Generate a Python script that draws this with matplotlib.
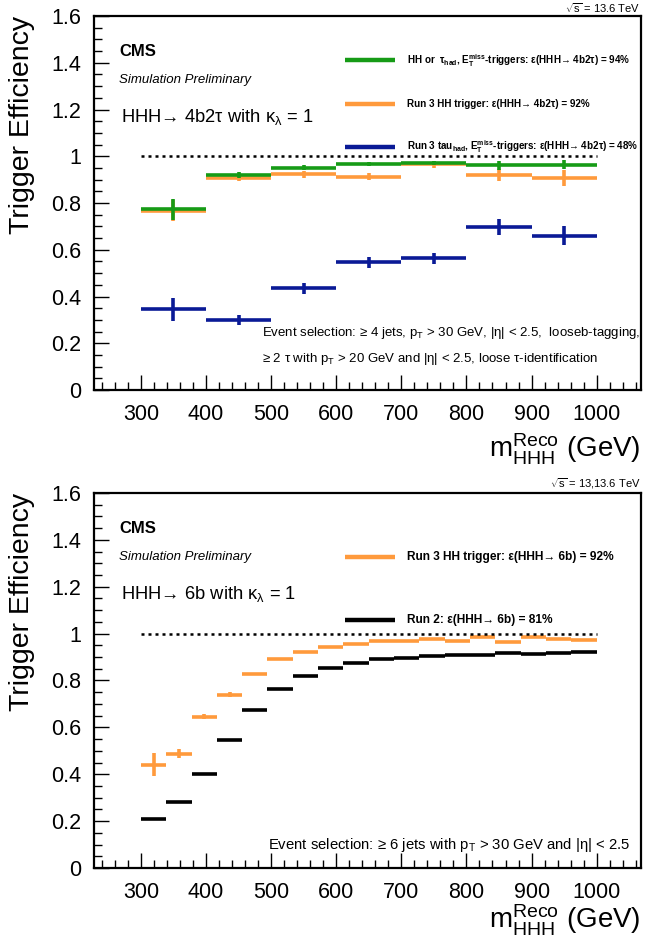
import numpy as np
import matplotlib
matplotlib.use("Agg")
import matplotlib.pyplot as plt
from matplotlib.ticker import MultipleLocator

plt.rcParams['font.family'] = ['Liberation Sans', 'DejaVu Sans']
plt.rcParams['mathtext.fontset'] = 'custom'
plt.rcParams['mathtext.rm'] = 'Liberation Sans'
plt.rcParams['mathtext.it'] = 'Liberation Sans:italic'
plt.rcParams['mathtext.bf'] = 'Liberation Sans:bold'

# ---- top panel: HHH -> 4b2tau, 100 GeV bins
top_edges = [300, 400, 500, 600, 700, 800, 900, 1000]
green_eff = [0.774, 0.921, 0.951, 0.968, 0.971, 0.961, 0.964]
green_err = [0.045, 0.012, 0.010, 0.008, 0.010, 0.020, 0.020]
orange_top_eff = [0.767, 0.908, 0.922, 0.913, 0.966, 0.921, 0.906]
orange_top_err = [0.045, 0.015, 0.015, 0.015, 0.015, 0.025, 0.035]
blue_eff = [0.345, 0.300, 0.435, 0.546, 0.563, 0.698, 0.660]
blue_err = [0.050, 0.020, 0.025, 0.025, 0.025, 0.035, 0.040]

# ---- bottom panel: HHH -> 6b, 18 bins between 300 and 1000 GeV
bot_range = (300, 1000)
orange_bot_eff = [0.441, 0.488, 0.646, 0.739, 0.829, 0.893, 0.922, 0.943, 0.956,
                  0.970, 0.970, 0.978, 0.970, 0.986, 0.964, 0.986, 0.978, 0.972]
orange_bot_err = [0.048, 0.020, 0.012, 0.010, 0.005, 0.005, 0.003, 0.003, 0.003,
                  0.003, 0.003, 0.003, 0.003, 0.003, 0.003, 0.003, 0.003, 0.003]
black_eff = [0.207, 0.283, 0.402, 0.546, 0.675, 0.764, 0.819, 0.855, 0.874,
             0.890, 0.898, 0.906, 0.910, 0.910, 0.917, 0.913, 0.917, 0.921]
black_err = [0.003] * 18

GREEN = '#169b16'
ORANGE = '#ff9a3c'
BLUE = '#0a1a96'
BLACK = '#000000'


def draw_hist(ax, edges, eff, err, color, lw=2.6):
    edges = np.asarray(edges, dtype=float)
    centers = 0.5 * (edges[1:] + edges[:-1])
    half = 0.5 * (edges[1:] - edges[:-1])
    ax.errorbar(centers, eff, xerr=half, yerr=err, fmt='none', ecolor=color,
                elinewidth=lw, capsize=0)


def style_axes(ax, xlabel_pad):
    ax.set_xlim(228, 1068)
    ax.set_ylim(0, 1.6)
    ax.xaxis.set_minor_locator(MultipleLocator(20))
    ax.yaxis.set_minor_locator(MultipleLocator(0.05))
    ax.set_xticks([300, 400, 500, 600, 700, 800, 900, 1000])
    ax.set_xticklabels(['300', '400', '500', '600', '700', '800', '900', '1000'])
    ax.set_yticks([0, 0.2, 0.4, 0.6, 0.8, 1.0, 1.2, 1.4, 1.6])
    ax.set_yticklabels(['0', '0.2', '0.4', '0.6', '0.8', '1', '1.2', '1.4', '1.6'])
    ax.tick_params(which='both', direction='in', top=False, right=False,
                   labelsize=15.5, width=1.0, color='black')
    ax.tick_params(which='major', length=11)
    ax.tick_params(which='minor', length=5.5)
    ax.tick_params(axis='x', pad=10)
    ax.tick_params(axis='y', pad=9)
    for s in ax.spines.values():
        s.set_linewidth(1.6)
    ax.plot([300, 1000], [1.0, 1.0], color='black', ls=(0, (1.2, 1.6)), lw=1.8)
    ax.set_xlabel(r'$\mathrm{m}_{\mathrm{HHH}}^{\mathrm{Reco}}$ (GeV)', fontsize=20,
                  loc='right', labelpad=xlabel_pad)
    ax.set_ylabel('Trigger Efficiency', fontsize=20.5, loc='top', labelpad=12)


def legend_entry(ax, y, color, label, size):
    ax.plot([0.458, 0.550], [y, y], transform=ax.transAxes, color=color, lw=3.2,
            solid_capstyle='butt')
    ax.text(0.572, y, label, transform=ax.transAxes, fontsize=size, fontweight='bold',
            va='center', ha='left')


def header(ax, process, energy):
    ax.text(0.046, 0.905, 'CMS', transform=ax.transAxes, fontsize=12, fontweight='bold',
            va='center')
    ax.text(0.046, 0.83, 'Simulation Preliminary', transform=ax.transAxes, fontsize=9.5,
            style='italic', va='center')
    ax.text(0.05, 0.73, process, transform=ax.transAxes, fontsize=13.2, va='center')
    ax.text(0.999, 1.004, energy, transform=ax.transAxes, fontsize=8, ha='right',
            va='bottom')


fig = plt.figure(figsize=(6.46, 9.41), dpi=100)
ax1 = fig.add_axes([0.1455, 0.5855, 0.8467, 0.3975])
ax2 = fig.add_axes([0.1455, 0.0776, 0.8467, 0.3985])

# top panel
draw_hist(ax1, top_edges, blue_eff, blue_err, BLUE)
draw_hist(ax1, top_edges, orange_top_eff, orange_top_err, ORANGE)
draw_hist(ax1, top_edges, green_eff, green_err, GREEN)
style_axes(ax1, 5)
header(ax1, r'HHH→ 4b2τ with κ$_{\mathrm{λ}}$ = 1', r'$\sqrt{\mathrm{s}}$ = 13.6 TeV')
legend_entry(ax1, 0.882, GREEN,
             r'HH or  τ$_{\mathbf{had}}$, E$_{\mathbf{T}}^{\mathbf{miss}}$-triggers: ε(HHH→ 4b2τ) = 94%', 7.1)
legend_entry(ax1, 0.765, ORANGE, 'Run 3 HH trigger: ε(HHH→ 4b2τ) = 92%', 7.1)
legend_entry(ax1, 0.650, BLUE,
             r'Run 3 tau$_{\mathbf{had}}$, E$_{\mathbf{T}}^{\mathbf{miss}}$-triggers: ε(HHH→ 4b2τ) = 48%', 7.1)
ax1.text(0.308, 0.153, r'Event selection: ≥ 4 jets, p$_{\mathrm{T}}$ > 30 GeV, |η| < 2.5,  looseb-tagging,',
         transform=ax1.transAxes, fontsize=9.5, va='center')
ax1.text(0.308, 0.083, r'≥ 2 τ with p$_{\mathrm{T}}$ > 20 GeV and |η| < 2.5, loose τ-identification',
         transform=ax1.transAxes, fontsize=9.5, va='center')

# bottom panel
bot_edges = np.linspace(bot_range[0], bot_range[1], len(black_eff) + 1)
draw_hist(ax2, bot_edges, black_eff, black_err, BLACK)
draw_hist(ax2, bot_edges, orange_bot_eff, orange_bot_err, ORANGE)
style_axes(ax2, 0)
header(ax2, r'HHH→ 6b with κ$_{\mathrm{λ}}$ = 1', r'$\sqrt{\mathrm{s}}$ = 13,13.6 TeV')
legend_entry(ax2, 0.83, ORANGE, 'Run 3 HH trigger: ε(HHH→ 6b) = 92%', 8.6)
legend_entry(ax2, 0.66, BLACK, 'Run 2: ε(HHH→ 6b) = 81%', 8.6)
ax2.text(0.318, 0.062, r'Event selection: ≥ 6 jets with p$_{\mathrm{T}}$ > 30 GeV and |η| < 2.5',
         transform=ax2.transAxes, fontsize=10.7, va='center')

fig.savefig('out.png', dpi=100)
